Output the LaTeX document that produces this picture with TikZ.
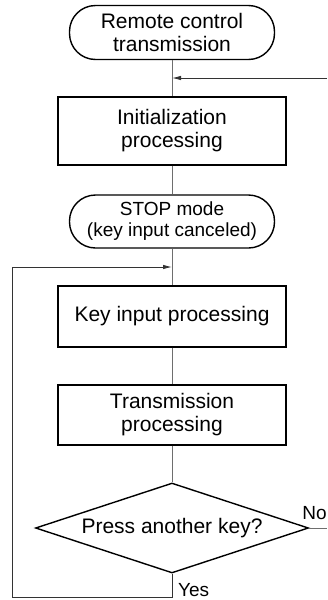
\documentclass[tikz,border=0pt]{standalone}
\usepackage{xcolor}
\usepackage{fontspec}
\setmainfont{Liberation Sans}
\usepackage{tikz}
\usetikzlibrary{shapes.geometric, arrows.meta, positioning, calc}
\definecolor{linegray}{RGB}{110, 110, 110}

\tikzset{
    terminal/.style={draw, line width=1.4pt, rounded corners=26pt, minimum width=205pt, minimum height=54pt, align=center, inner sep=0pt},
    process/.style={draw, line width=1.4pt, minimum width=228pt, minimum height=62pt, align=center, inner sep=0pt},
    decision/.style={draw, diamond, line width=1.4pt, aspect=3, minimum width=273pt, minimum height=90pt, inner sep=0pt},
    flow/.style={draw=linegray, line width=0.9pt},
    flowarrow/.style={draw=black!80, line width=0.9pt, -{Latex[length=9pt,width=4.5pt]}},
    txt/.style={font=\fontsize{21}{23}\selectfont},
    branch/.style={font=\fontsize{19}{21}\selectfont, anchor=base west, inner sep=0pt}
}

\begin{document}
\begin{tikzpicture}[x=1pt, y=1pt]
        \useasboundingbox (0,0) rectangle (327,-600);

        % flow boxes
        \node[terminal, txt] (start) at (172,-32.5) {Remote control\\transmission};
        \node[process, txt, minimum height=68pt] (init) at (172,-131) {Initialization\\processing};
        \node[terminal, font=\fontsize{19}{21}\selectfont, minimum height=53pt] (stop) at (172,-221.5) {STOP mode\\(key input canceled)};
        \node[process, txt, minimum height=61pt] (keyin) at (172,-316.5) {Key input processing};
        \node[process, txt, minimum height=60pt] (trans) at (172,-415) {Transmission\\processing};
        \node[decision, txt] (ask) at (172,-528) {Press another key?};

        % free ends
        \coordinate (entry) at (327,-78);
        \coordinate (back) at (172,-267);
        \coordinate (noend) at (327,-528);

        % connectors
        \draw[flow] (start) -- (init);
        \draw[flowarrow] (entry) -- (entry -| start);
        \draw[flow] (init) -- (stop);
        \draw[flow] (stop) -- (keyin);
        \draw[flow] (keyin) -- (trans);
        \draw[flow] (trans) -- (ask);
        \draw[flow] (ask.east) -- (noend);
        \draw[flowarrow] (ask.south) -- ++(0,-24) -| ([xshift=-160pt]back) -- (back);

        % branch labels
        \node[branch] (nolabel) at ([xshift=-7pt, yshift=9pt]ask.east) {No};
        \node[branch] (yeslabel) at ([xshift=6pt, yshift=-23pt]ask.south) {Yes};
    \end{tikzpicture}
\end{document}
